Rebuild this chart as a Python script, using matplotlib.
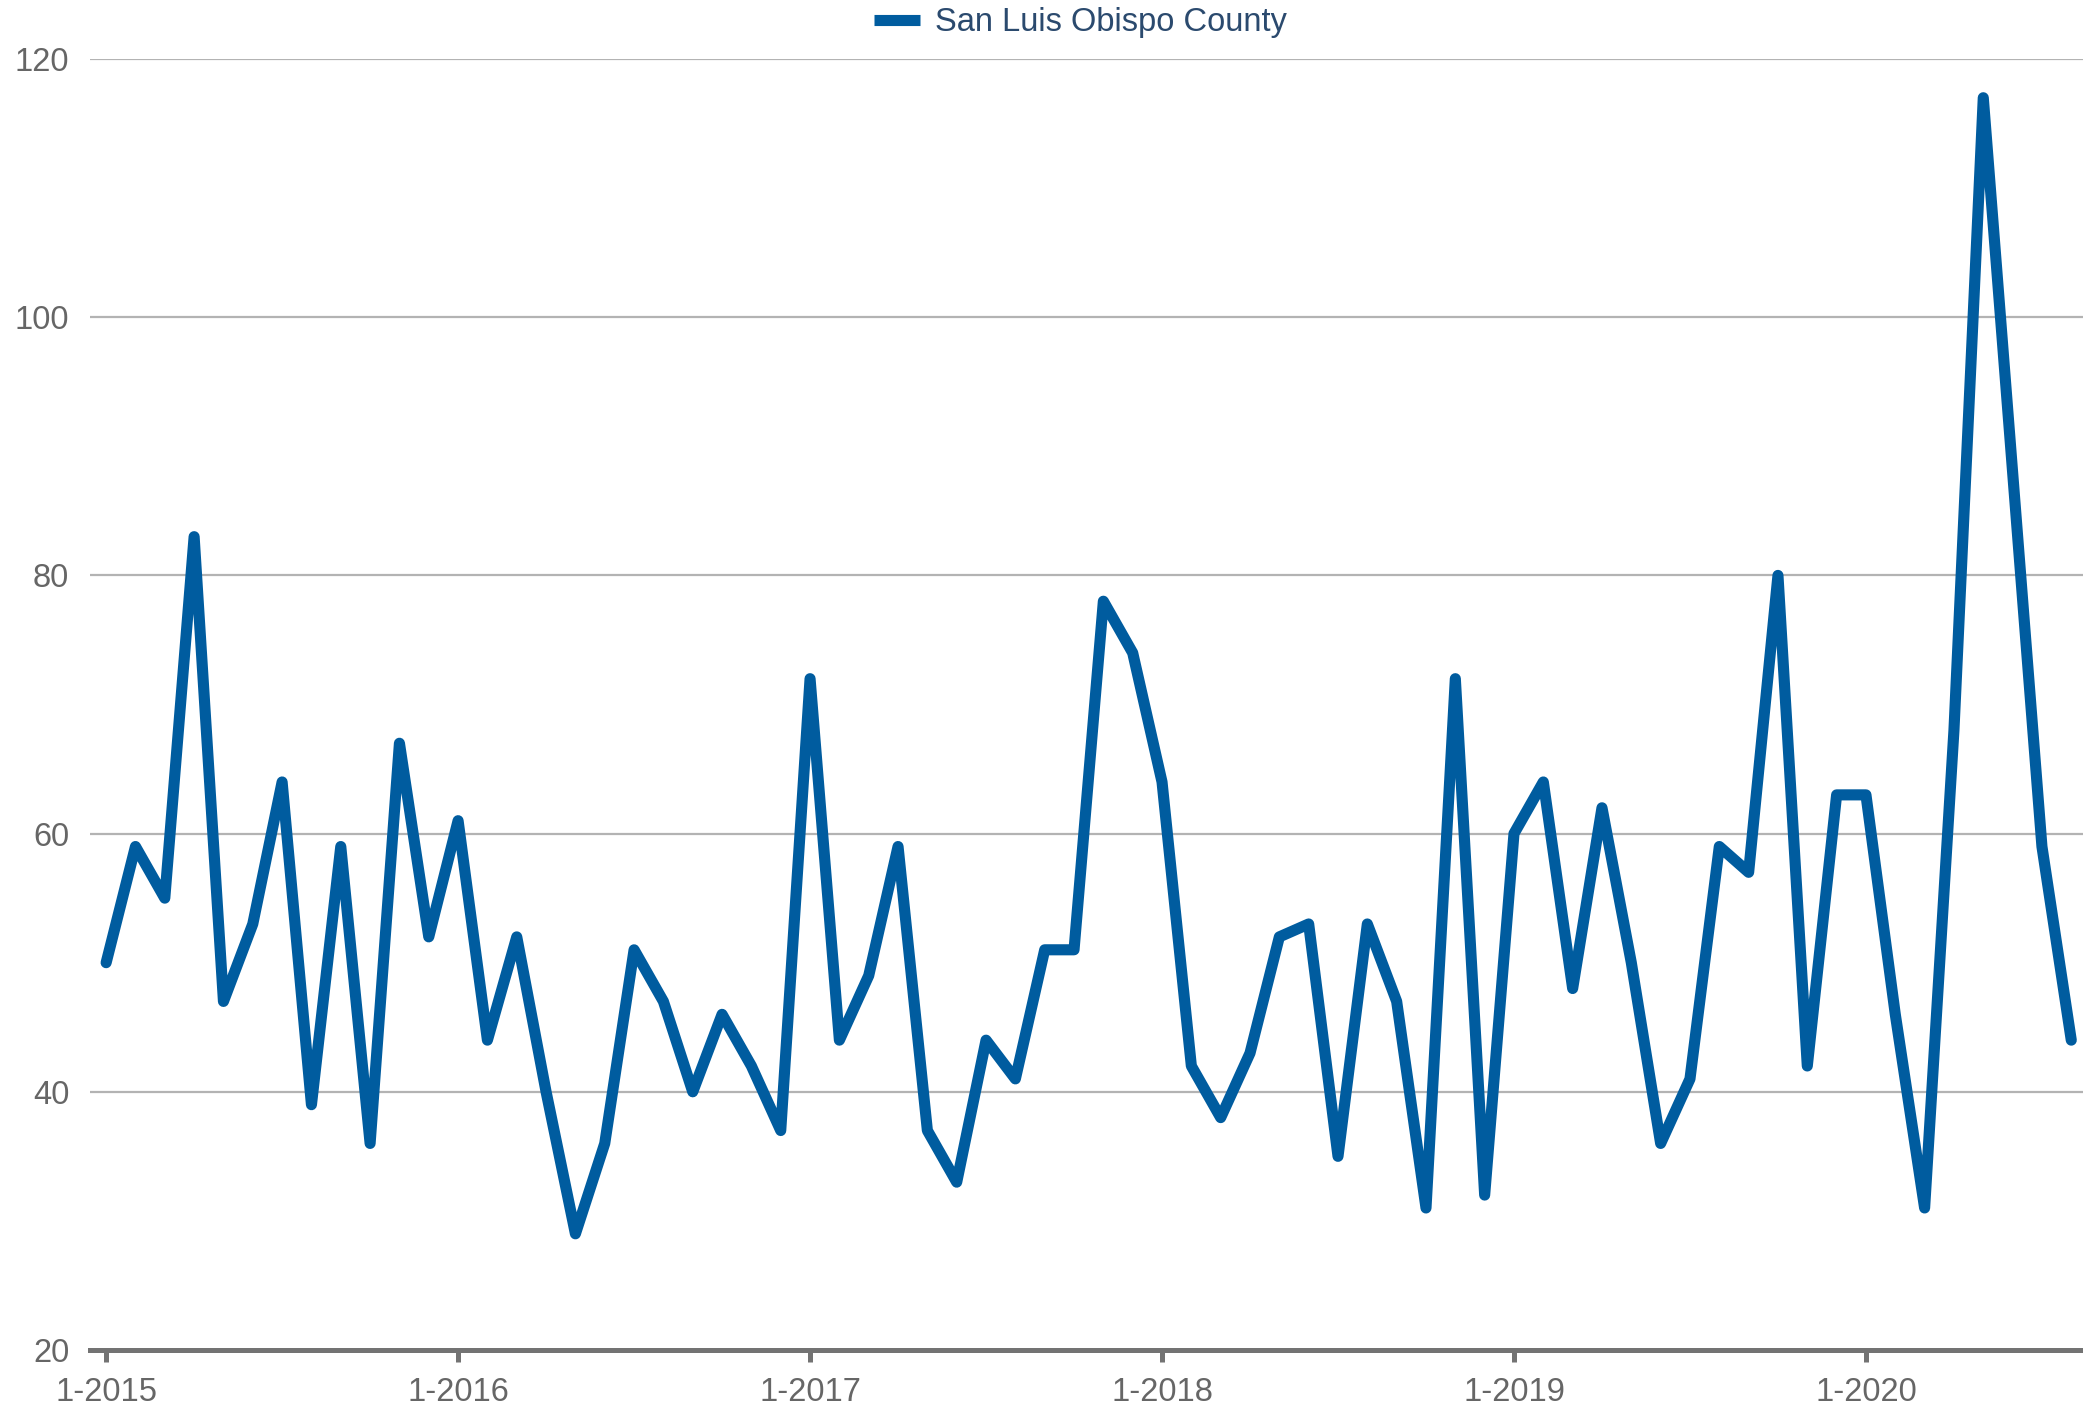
import matplotlib
matplotlib.use("Agg")
import matplotlib.pyplot as plt

# ---- data ----
series_name = "San Luis Obispo County"
values = [50, 59, 55, 83, 47, 53, 64, 39, 59, 36,
          67, 52, 61, 44, 52, 40, 29, 36, 51, 47,
          40, 46, 42, 37, 72, 44, 49, 59, 37, 33,
          44, 41, 51, 51, 78, 74, 64, 42, 38, 43,
          52, 53, 35, 53, 47, 31, 72, 32, 60, 64,
          48, 62, 50, 36, 41, 59, 57, 80, 42, 63,
          63, 46, 31, 68, 117, 88, 59, 44]
month_index = list(range(len(values)))
xtick_positions = [0, 12, 24, 36, 48, 60]
xtick_labels = ["1-2015", "1-2016", "1-2017", "1-2018", "1-2019", "1-2020"]
ytick_values = [20, 40, 60, 80, 100, 120]

plt.rcParams['font.family'] = ['Liberation Sans', 'DejaVu Sans']

W, H = 2083, 1415
fig = plt.figure(figsize=(W / 100, H / 100), dpi=100)
ax = fig.add_axes([90 / W, (H - 1350) / H, 1 - 90 / W, (1350 - 59) / H])

line_color = "#005c9f"
ax.plot(month_index, values, color=line_color, lw=8, solid_joinstyle="round",
        solid_capstyle="round", label=series_name, zorder=3, clip_on=False)

ax.set_xlim(-0.55, 67.4)
ax.set_ylim(20, 120)
ax.set_yticks(ytick_values)
ax.set_yticklabels([str(v) for v in ytick_values])
ax.set_xticks(xtick_positions)
ax.set_xticklabels(xtick_labels)

ax.grid(axis="y", color="#b3b3b3", lw=1.6)
ax.grid(axis="x", visible=False)
ax.set_axisbelow(True)

for s in ("left", "right", "top"):
    ax.spines[s].set_visible(False)
ax.spines["bottom"].set_color("#737373")
ax.spines["bottom"].set_linewidth(3.6)
ax.spines["bottom"].set_zorder(4)

ax.tick_params(axis="y", length=0, pad=15, labelsize=23.5, labelcolor="#666666")
ax.tick_params(axis="x", direction="out", length=8.5, width=3.6, color="#737373",
               pad=11, labelsize=23.5, labelcolor="#666666")

leg = ax.legend(loc="center", bbox_to_anchor=(0.497, 1.028), frameon=False,
                fontsize=23.5, handlelength=1.4, handletextpad=0.45,
                borderaxespad=0.0, borderpad=0.0)
for t in leg.get_texts():
    t.set_color("#2b4a6e")
for h in leg.legend_handles:
    h.set_linewidth(8)
    h.set_solid_capstyle("butt")

fig.savefig("out.png", dpi=100, facecolor="white")
